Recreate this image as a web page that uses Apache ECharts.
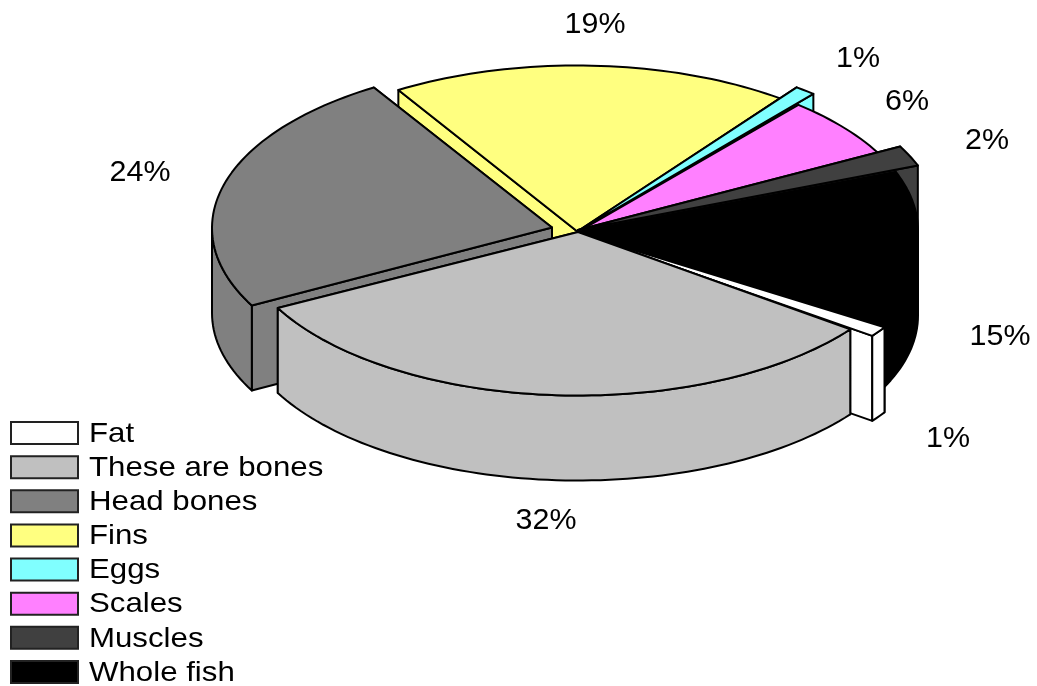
<!DOCTYPE html>
<html><head><meta charset="utf-8">
<style>html,body{margin:0;padding:0;background:#fff}#c{width:1037px;height:686px}</style>
<script src="https://cdn.jsdelivr.net/npm/echarts@6/dist/echarts.min.js"></script>
</head><body><div id="c"></div>
<script>
// ---- data ----
const categories = ['Fat','These are bones','Head bones','Fins','Eggs','Scales','Muscles','Whole fish'];
const values     = [1, 32, 24, 19, 1, 6, 2, 15];
// ---- styling / layout ----
const colors     = ['#ffffff','#c0c0c0','#808080','#ffff80','#80ffff','#ff80ff','#404040','#000000'];
const explode    = [[22,6.5],[0,0],[-26,-2.5],[-1.5,0],[15,-11],[0,0],[22,-6.5],[0,0]];
const apexShift  = [[0,1],[0,0],[-26,-4.5],[0,0],[0,-1],[0,0],[0,-2],[0,0]];
const labelPos   = [[948,439],[546,521],[140,173],[595,25],[858,59],[907,102],[987,141],[1000,337]];
const drawOrder  = [3,4,5,6,7,2,0,1];
const CX=578, CY=230.5, APEX_Y=232, RX=340, RY=165, DEPTH=85, START=33.2;
const FONT='"Liberation Sans", Arial, sans-serif';
const total = values.reduce((a,b)=>a+b,0);
const rad = d=>d*Math.PI/180;
const angles = []; let acc = START;
values.forEach(v=>{ const s=acc; acc+=v/total*360; angles.push([s,acc]); });

function pt(i,a){ return [CX+explode[i][0]+RX*Math.cos(rad(a)), CY+explode[i][1]+RY*Math.sin(rad(a))]; }
function arc(i,a0,a1){ const n=Math.max(2,Math.ceil((a1-a0)/1.5)),o=[]; for(let k=0;k<=n;k++) o.push(pt(i,a0+(a1-a0)*k/n)); return o; }
function poly(points,fill){ return {type:'polygon',silent:true,shape:{points},style:{fill,stroke:'#000',lineWidth:2,lineJoin:'round'}}; }
function down(p){ return [p[0],p[1]+DEPTH]; }

function renderSlice(params,api){
  const i=api.value(0), [a0,a1]=angles[i], fill=colors[i];
  const apex=[CX+apexShift[i][0],APEX_Y+apexShift[i][1]], A=pt(i,a0), B=pt(i,a1);
  const walls=[A,B].sort((p,q)=>p[1]-q[1]).map(p=>poly([apex,p,down(p),down(apex)],fill));
  const kids=[...walls];
  // front-facing outer wall: parts of the arc in the lower half of the ellipse
  for(const base of [0,360]){
    const s=Math.max(a0,base), e=Math.min(a1,base+180);
    if(e>s){ const t=arc(i,s,e); kids.push(poly(t.concat(t.slice().reverse().map(down)),fill)); }
  }
  kids.push(poly([apex].concat(arc(i,a0,a1)),fill));
  return {type:'group',children:kids};
}
function renderLabel(params,api){
  const i=api.value(0), p=labelPos[i];
  return {type:'text',silent:true,x:p[0],y:p[1],scaleX:1.05,style:{text:Math.round(values[i]/total*100)+'%',fontSize:29,fontFamily:FONT,fill:'#000',textAlign:'center',textVerticalAlign:'middle'}};
}
function renderLegend(params,api){
  const i=api.value(0), y=422+34.14*i;
  return {type:'group',children:[
    {type:'rect',silent:true,shape:{x:11,y:y,width:67,height:22},style:{fill:colors[i],stroke:'#222',lineWidth:2}},
    {type:'text',silent:true,x:89,y:y+12,scaleX:1.115,style:{text:categories[i],fontSize:28,fontFamily:FONT,fill:'#000',textAlign:'left',textVerticalAlign:'middle'}}
  ]};
}
const chart=echarts.init(document.getElementById('c'),null,{renderer:'canvas'});
chart.setOption({
  animation:false,backgroundColor:'#fff',
  series:[
    {type:'custom',coordinateSystem:'none',renderItem:renderSlice,data:drawOrder.map(i=>[i]),z:1},
    {type:'custom',coordinateSystem:'none',renderItem:renderLabel,data:categories.map((c,i)=>[i]),z:2},
    {type:'custom',coordinateSystem:'none',renderItem:renderLegend,data:categories.map((c,i)=>[i]),z:3}
  ]
});
</script></body></html>
